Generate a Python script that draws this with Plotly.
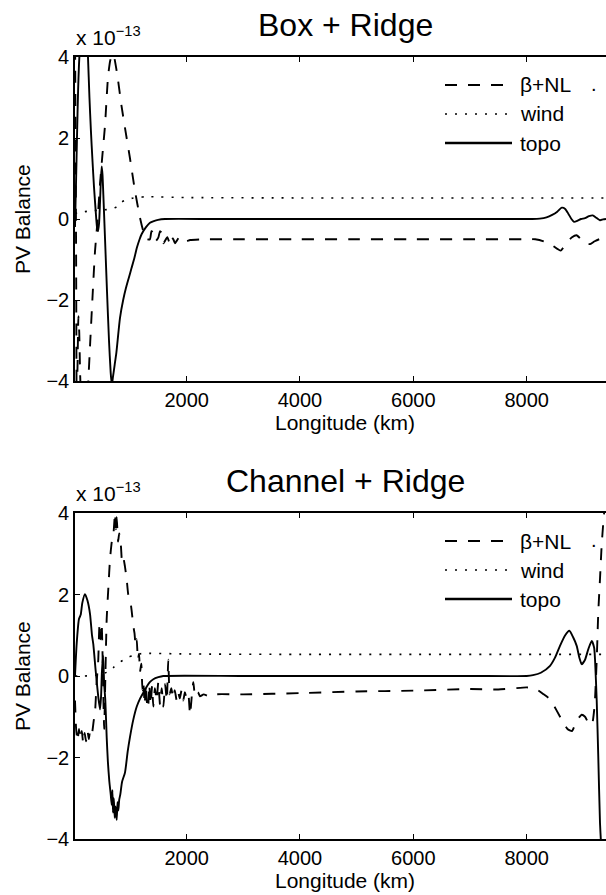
import plotly.graph_objects as go

# ---------------- data (values in units of 1e-13) ----------------
# Box + Ridge
box_topo_km = [30, 50, 65, 85, 100, 118, 150, 180, 220, 259, 285, 310, 340, 365, 395, 418, 436, 455, 471, 488,
               501, 515, 530, 560, 595, 630, 660, 680, 700, 730, 760, 824, 880, 930, 980, 1030, 1080, 1124, 1170,
               1207, 1283, 1353, 1420, 1495, 1618, 2500, 4000, 6000, 7800, 8100, 8232, 8350, 8450, 8540, 8620,
               8680, 8740, 8790, 8836, 8900, 8960, 9030, 9100, 9165, 9230, 9294, 9350, 9400]
box_topo = [-0.2, 1.0, 2.0, 3.2, 3.8, 4.3, 5.1, 5.5, 5.2, 4.0, 3.0, 2.2, 1.4, 0.8, 0.2, -0.2, -0.3, -0.1, 0.4, 1.0,
            1.3, 1.1, 0.6, -0.5, -1.8, -3.0, -3.8, -4.1, -3.9, -3.6, -3.3, -2.44, -2.0, -1.7, -1.45, -1.2, -0.95,
            -0.7, -0.5, -0.37, -0.2, -0.09, -0.05, -0.02, 0.0, 0.0, 0.0, 0.0, 0.0, 0.0, 0.01, 0.04, 0.1, 0.18, 0.28,
            0.25, 0.12, 0.0, -0.07, -0.04, 0.0, 0.02, 0.07, 0.09, 0.03, -0.03, -0.01, 0.0]

box_wind_km = [30, 118, 295, 500, 680, 765, 854, 942, 1030, 1119, 1300, 2000, 4000, 6000, 8000, 9400]
box_wind = [0.14, 0.16, 0.2, 0.22, 0.25, 0.3, 0.42, 0.48, 0.51, 0.53, 0.55, 0.53, 0.52, 0.52, 0.52, 0.52]

box_beta_km = [30, 40, 50, 60, 75, 90, 105, 120, 140, 160, 200, 240, 265, 300, 340, 383, 430, 471, 515, 559,
               612, 650, 690, 720, 760, 792, 850, 912, 1000, 1089, 1177, 1235, 1300, 1353, 1380, 1412, 1450, 1500,
               1530, 1560, 1590, 1618, 1660, 1706, 1735, 1765, 1795, 1824, 1870, 1912, 1980, 2060, 2300, 3000,
               4000, 5000, 6000, 7000, 8000, 8150, 8300, 8450, 8600, 8700, 8800, 8880, 8960, 9040, 9120, 9200,
               9280, 9400]
box_beta = [4.8, 2.0, -1.0, -4.6, -3.6, -2.4, -2.8, -3.8, -4.6, -5.0, -5.2, -4.8, -4.0, -3.0, -1.9, -0.8, 0.0,
            0.86, 1.6, 2.3, 3.5, 3.9, 4.07, 4.0, 3.7, 3.4, 2.8, 2.25, 1.5, 0.69, 0.03, -0.3, -0.5, -0.5, -0.3,
            -0.34, -0.55, -0.46, -0.3, -0.34, -0.6, -0.54, -0.45, -0.62, -0.45, -0.5, -0.6, -0.54, -0.45, -0.46,
            -0.55, -0.52, -0.5, -0.5, -0.5, -0.5, -0.5, -0.5, -0.5, -0.5, -0.55, -0.65, -0.78, -0.6, -0.45, -0.4,
            -0.5, -0.6, -0.62, -0.55, -0.5, -0.45]

# Channel + Ridge
chan_topo_km = [30, 60, 100, 130, 160, 206, 250, 295, 330, 353, 390, 412, 440, 471, 490, 505, 525, 545, 565, 589,
                610, 636, 660, 677, 690, 700, 715, 730, 745, 766, 780, 795, 810, 830, 860, 912, 960, 1000, 1059,
                1120, 1180, 1235, 1300, 1350, 1412, 1500, 1588, 3000, 5000, 7000, 8000, 8112, 8250, 8412, 8500,
                8588, 8680, 8753, 8820, 8883, 8930, 8971, 9030, 9088, 9148, 9190, 9206, 9236, 9264, 9294, 9312,
                9350, 9400]
chan_topo = [0.0, 0.8, 1.4, 1.5, 1.8, 2.01, 1.85, 1.52, 1.0, 0.78, 0.2, -0.12, -0.5, -0.82, -0.5, 0.1, 0.5, -0.2,
             -0.6, -1.5, -2.1, -2.59, -2.9, -3.16, -2.8, -3.35, -3.0, -3.48, -3.2, -3.53, -3.1, -3.3, -3.04, -2.9,
             -2.6, -2.37, -1.85, -1.5, -1.07, -0.75, -0.55, -0.41, -0.25, -0.15, -0.08, -0.03, 0.0, 0.0, 0.0, 0.0,
             0.0, 0.02, 0.08, 0.25, 0.45, 0.74, 1.0, 1.11, 0.95, 0.74, 0.45, 0.29, 0.4, 0.66, 0.86, 0.7, 0.41,
             -0.6, -2.0, -3.6, -4.1, -5.0, -6.0]

chan_wind_km = [30, 200, 400, 590, 700, 824, 970, 1060, 1200, 2000, 4000, 6000, 8000, 9400]
chan_wind = [0.0, 0.0, 0.02, 0.09, 0.2, 0.34, 0.46, 0.5, 0.55, 0.54, 0.53, 0.53, 0.53, 0.53]

chan_beta_km = [30, 50, 75, 100, 125, 150, 175, 200, 225, 250, 275, 300, 330, 360, 383, 410, 441, 460, 480, 500,
                515, 530, 545, 560, 589, 620, 648, 680, 706, 736, 750, 766, 790, 810, 840, 860, 883, 910, 942, 970,
                1000, 1030, 1059, 1080, 1100, 1119, 1140, 1160, 1177, 1200, 1220, 1235, 1260, 1280, 1295, 1320,
                1340, 1365, 1390, 1412, 1440, 1470, 1500, 1530, 1560, 1590, 1620, 1650, 1676, 1700, 1730, 1760,
                1790, 1824, 1850, 1880, 1910, 1940, 1970, 2000, 2030, 2060, 2090, 2118, 2150, 2200, 2236, 2300,
                2400, 2500, 3000, 4000, 5000, 6000, 7000, 7500, 8000, 8100, 8200, 8300, 8412, 8530, 8650, 8720,
                8800, 8880, 8970, 9030, 9090, 9150, 9200, 9236, 9264, 9294, 9323, 9353, 9380, 9400]
chan_beta = [-0.6, -1.3, -1.6, -1.3, -1.55, -1.35, -1.65, -1.4, -1.6, -1.35, -1.55, -1.3, -1.4, -1.1, -0.9, -0.2,
             0.41, 1.2, 0.9, 1.3, 0.6, -0.5, -1.3, -0.4, 1.4, 2.2, 2.87, 3.3, 3.45, 4.0, 3.6, 3.9, 3.3, 3.5, 3.2,
             2.8, 2.9, 2.7, 2.38, 2.0, 1.9, 1.6, 1.23, 1.05, 0.75, 0.9, 0.4, 0.55, 0.1, 0.3, -0.35, -0.15, -0.7,
             -0.2, -0.6, -0.8, -0.2, -0.7, -0.25, -0.75, -0.3, -0.6, -0.15, -0.7, -0.3, -0.75, -0.2, -0.6, 0.4,
             -0.45, -0.3, -0.55, -0.35, -0.6, -0.4, -0.55, -0.35, -0.6, -0.4, -0.55, -0.45, -0.95, -0.5, -0.15,
             -0.5, -0.4, -0.5, -0.45, -0.5, -0.45, -0.45, -0.42, -0.38, -0.36, -0.32, -0.33, -0.28, -0.3, -0.35,
             -0.45, -0.57, -0.85, -1.15, -1.3, -1.35, -1.1, -0.95, -1.0, -1.15, -1.2, -0.7, 0.4, 1.57, 2.38, 3.2,
             3.78, 4.2, 4.5]

panel_titles = ["Box + Ridge", "Channel + Ridge"]
legend_labels = ["β+NL", "wind", "topo"]
x_ticks = [2000, 4000, 6000, 8000]
y_ticks = [-4, -2, 0, 2, 4]

# ---------------- layout helpers (pixel positions of frame) ----------------
FW, FH = 606, 895
L = 75
W = FW - L


def px(xp):
    return (xp - L) / W


def py(yp):
    return 1 - yp / FH


FONT = "Liberation Sans, Arial, Helvetica, sans-serif"
DASH = "12px,11px"
DOT = "2px,8px"

fig = go.Figure()

panels = [
    (box_beta_km, box_beta, box_wind_km, box_wind, box_topo_km, box_topo, "x", "y"),
    (chan_beta_km, chan_beta, chan_wind_km, chan_wind, chan_topo_km, chan_topo, "x2", "y2"),
]
for bk, bv, wk, wv, tk, tv, xa, ya in panels:
    fig.add_trace(go.Scatter(x=bk, y=bv, mode="lines", xaxis=xa, yaxis=ya, showlegend=False,
                             line=dict(color="black", width=1.9, dash=DASH, shape="spline", smoothing=0.5)))
    fig.add_trace(go.Scatter(x=wk, y=wv, mode="lines", xaxis=xa, yaxis=ya, showlegend=False,
                             line=dict(color="black", width=1.6, dash=DOT, shape="spline", smoothing=0.6)))
    fig.add_trace(go.Scatter(x=tk, y=tv, mode="lines", xaxis=xa, yaxis=ya, showlegend=False,
                             line=dict(color="black", width=1.9, shape="spline", smoothing=0.6)))

axis_common = dict(showgrid=False, zeroline=False, showline=True, linecolor="black", linewidth=1.6,
                   ticks="inside", ticklen=5, tickwidth=1.3, tickcolor="black",
                   tickfont=dict(family=FONT, size=20, color="black"), automargin=False)

frames = [(57, 381), (513, 839)]
for i, (top, bot) in enumerate(frames):
    sfx = "" if i == 0 else "2"
    fig.update_layout(**{
        "xaxis" + sfx: dict(axis_common, domain=[0, 1], range=[30, 9400], anchor="y" + sfx,
                            tickvals=x_ticks, mirror="ticks"),
        "yaxis" + sfx: dict(axis_common, domain=[py(bot), py(top)], range=[-4, 4], anchor="x" + sfx,
                            tickvals=y_ticks, mirror=False),
    })

annotations = []
shapes = []
for i, (top, bot) in enumerate(frames):
    # title
    annotations.append(dict(text=panel_titles[i], x=px(345), y=py(top - 32), xref="paper", yref="paper",
                            xanchor="center", yanchor="middle", showarrow=False,
                            font=dict(family=FONT, size=32, color="black")))
    # exponent label
    annotations.append(dict(text="x 10<sup>−13</sup>", x=px(74), y=py(top - 6), xref="paper", yref="paper",
                            xanchor="left", yanchor="bottom", showarrow=False,
                            font=dict(family=FONT, size=21, color="black")))
    # y axis title
    annotations.append(dict(text="PV Balance", x=px(22), y=py((top + bot) / 2), xref="paper", yref="paper",
                            xanchor="center", yanchor="middle", textangle=-90, showarrow=False,
                            font=dict(family=FONT, size=21, color="black")))
    # x axis title
    annotations.append(dict(text="Longitude (km)", x=px(345), y=py(bot + 41), xref="paper", yref="paper",
                            xanchor="center", yanchor="middle", showarrow=False,
                            font=dict(family=FONT, size=21, color="black")))
    # legend
    rows = [top + 28, top + 57, top + 86]
    styles = [dict(dash=DASH, width=1.9), dict(dash=DOT, width=1.6), dict(dash="solid", width=2.3)]
    for lab, ry, st in zip(legend_labels, rows, styles):
        shapes.append(dict(type="line", xref="paper", yref="paper", x0=px(445), x1=px(512),
                           y0=py(ry), y1=py(ry), line=dict(color="black", **st)))
        annotations.append(dict(text=lab, x=px(518), y=py(ry), xref="paper", yref="paper",
                                xanchor="left", yanchor="middle", showarrow=False,
                                font=dict(family=FONT, size=21, color="black")))
    annotations.append(dict(text=".", x=px(594), y=py(top + 27), xref="paper", yref="paper",
                            xanchor="center", yanchor="middle", showarrow=False,
                            font=dict(family=FONT, size=20, color="black")))

fig.update_layout(width=FW, height=FH, margin=dict(l=L, r=0, t=0, b=0),
                  paper_bgcolor="white", plot_bgcolor="white", template="none",
                  showlegend=False, annotations=annotations, shapes=shapes)

fig.write_html("out.html", config={"displayModeBar": False},
               post_script="document.body.style.margin='0';document.body.style.padding='0';"
                           "document.body.style.overflow='hidden';")
